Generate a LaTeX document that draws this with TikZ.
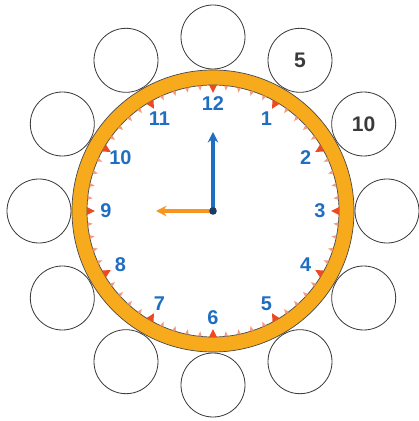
\documentclass[tikz,border=0pt]{standalone}
\usepackage{fontspec}
\setmainfont{Liberation Sans}
\usetikzlibrary{arrows.meta}
\definecolor{ringorange}{HTML}{F6AA1C}
\definecolor{ringedge}{HTML}{4A4A4A}
\definecolor{tickminor}{HTML}{F49A80}
\definecolor{tickhour}{HTML}{EE4A22}
\definecolor{numblue}{HTML}{1F6EC2}
\definecolor{handorange}{HTML}{F7961E}
\definecolor{hubblue}{HTML}{1C3C64}
\definecolor{circlegrey}{HTML}{3A3A3A}
\tikzset{
  numlabel/.style={text=numblue, font=\bfseries\fontsize{17}{17}\selectfont},
  answer/.style={circle, draw=circlegrey, line width=0.7pt, minimum size=64*0.03cm, inner sep=0pt,
    text=circlegrey, font=\bfseries\fontsize{18}{18}\selectfont},
  hand/.style={line width=2.6pt, -{Stealth[length=9pt, width=9pt, inset=3pt]}}
}
\begin{document}
\begin{tikzpicture}[x=0.03cm,y=0.03cm]
\useasboundingbox (-213,-210) rectangle (205,211);
\draw[ringedge, fill=ringorange, even odd rule, line width=0.6pt] (0,0) circle (141) (0,0) circle (126);
\foreach \m in {0,...,59} {
  \fill[tickminor] ({90-6*\m-0.9}:126) -- ({90-6*\m}:121) -- ({90-6*\m+0.9}:126) -- cycle;
}
\foreach \h in {1,...,12} {
  \fill[tickhour] ({90-30*\h-1.8}:126) -- ({90-30*\h}:118) -- ({90-30*\h+1.8}:126) -- cycle;
  \node[numlabel] (n\h) at ({90-30*\h}:107) {\h};
}
\node[answer] (c1) at (60:174) {5};
\node[answer] (c2) at (30:174) {10};
\foreach \k in {3,...,12} \node[answer] (c\k) at ({90-30*\k}:174) {};
\coordinate (centre) at (0,0);
\coordinate (minutetip) at (0,79);
\coordinate (hourtip) at (-57,0);
\draw[hand, handorange] (centre) -- (hourtip);
\draw[hand, numblue] (centre) -- (minutetip);
\fill[hubblue] (centre) circle (3.8);
\end{tikzpicture}
\end{document}
